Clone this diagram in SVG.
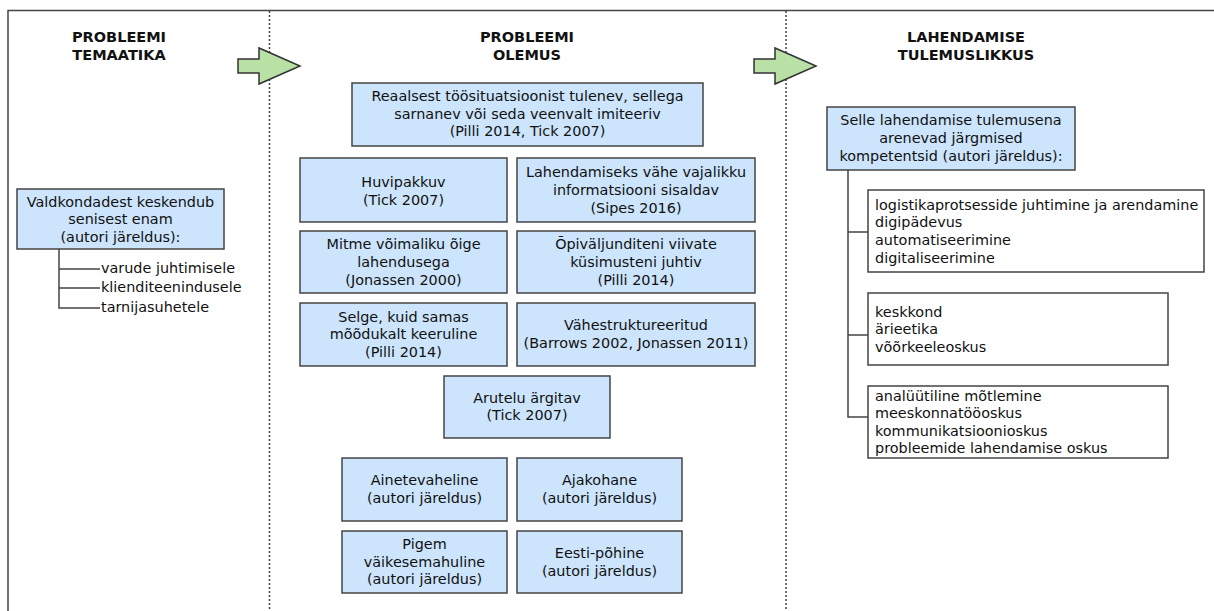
<svg xmlns="http://www.w3.org/2000/svg" width="1214" height="611" viewBox="0 0 1214 611">
<style>
text{font-family:"DejaVu Sans",Verdana,sans-serif;font-size:14.4px;fill:#111}
.h{font-weight:bold;font-size:14.5px;text-anchor:middle}
.c{text-anchor:middle}
.blue{fill:#cce4fc;stroke:#444;stroke-width:1.5}
.white{fill:#fff;stroke:#444;stroke-width:1.5}
.ln{stroke:#444;stroke-width:1.5;fill:none}
.dash{stroke:#444;stroke-width:1.5;stroke-dasharray:2 2;fill:none}
.arrow{fill:#b9e0a5;stroke:#333;stroke-width:1.5}
</style>
<rect width="1214" height="611" fill="#fff"/>
<g id="frame">
<path class="ln" d="M8 611 V10.5 H1214" stroke="#555"/>
<line class="dash" x1="269.5" y1="11" x2="269.5" y2="611"/>
<line class="dash" x1="786" y1="11" x2="786" y2="611"/>
</g>
<g id="arrows">
<polygon class="arrow" points="238,59 259,59 259,48 300,66 259,84 259,73 238,73"/>
<polygon class="arrow" points="754,59 775,59 775,48 816,66 775,84 775,73 754,73"/>
</g>
<g id="headers">
<text class="h" x="119" y="42">PROBLEEMI</text>
<text class="h" x="119" y="60">TEMAATIKA</text>
<text class="h" x="527" y="42">PROBLEEMI</text>
<text class="h" x="527" y="60">OLEMUS</text>
<text class="h" x="966" y="42">LAHENDAMISE</text>
<text class="h" x="966" y="60">TULEMUSLIKKUS</text>
</g>
<g id="connectors">
<path class="ln" d="M59 249 V308 H100 M59 269 H100 M59 288 H100"/>
<path class="ln" d="M848 170 V417 H868 M848 232 H868 M848 335 H868"/>
</g>
<g id="n-valdkond">
<rect class="blue" x="17" y="189" width="207" height="60"/>
<text class="c" x="120.5" y="207">Valdkondadest keskendub</text>
<text class="c" x="120.5" y="224">senisest enam</text>
<text class="c" x="120.5" y="242">(autori järeldus):</text>
</g>
<g id="n-valdkond-items">
<text x="101" y="273">varude juhtimisele</text>
<text x="101" y="292">klienditeenindusele</text>
<text x="101" y="312">tarnijasuhetele</text>
</g>
<g id="n-reaalsest">
<rect class="blue" x="352" y="83" width="351" height="63"/>
<text class="c" x="527.5" y="101">Reaalsest töösituatsioonist tulenev, sellega</text>
<text class="c" x="527.5" y="119">sarnanev või seda veenvalt imiteeriv</text>
<text class="c" x="527.5" y="136">(Pilli 2014, Tick 2007)</text>
</g>
<g id="n-huvi">
<rect class="blue" x="300" y="158" width="207" height="64"/>
<text class="c" x="403.5" y="187">Huvipakkuv</text>
<text class="c" x="403.5" y="205">(Tick 2007)</text>
</g>
<g id="n-lahend">
<rect class="blue" x="517" y="158" width="238" height="64"/>
<text class="c" x="636" y="177">Lahendamiseks vähe vajalikku</text>
<text class="c" x="636" y="195">informatsiooni sisaldav</text>
<text class="c" x="636" y="213">(Sipes 2016)</text>
</g>
<g id="n-mitme">
<rect class="blue" x="300" y="231" width="207" height="62"/>
<text class="c" x="403.5" y="249">Mitme võimaliku õige</text>
<text class="c" x="403.5" y="267">lahendusega</text>
<text class="c" x="403.5" y="285">(Jonassen 2000)</text>
</g>
<g id="n-opi">
<rect class="blue" x="517" y="231" width="238" height="62"/>
<text class="c" x="636" y="249">Õpiväljunditeni viivate</text>
<text class="c" x="636" y="267">küsimusteni juhtiv</text>
<text class="c" x="636" y="285">(Pilli 2014)</text>
</g>
<g id="n-selge">
<rect class="blue" x="300" y="303" width="207" height="63"/>
<text class="c" x="403.5" y="322">Selge, kuid samas</text>
<text class="c" x="403.5" y="339">mõõdukalt keeruline</text>
<text class="c" x="403.5" y="357">(Pilli 2014)</text>
</g>
<g id="n-vahe">
<rect class="blue" x="517" y="303" width="238" height="63"/>
<text class="c" x="636" y="330">Vähestruktureeritud</text>
<text class="c" x="636" y="348">(Barrows 2002, Jonassen 2011)</text>
</g>
<g id="n-arutelu">
<rect class="blue" x="444" y="376" width="166" height="62"/>
<text class="c" x="527" y="403">Arutelu ärgitav</text>
<text class="c" x="527" y="420">(Tick 2007)</text>
</g>
<g id="n-aine">
<rect class="blue" x="342" y="458" width="165" height="63"/>
<text class="c" x="424.5" y="485">Ainetevaheline</text>
<text class="c" x="424.5" y="503">(autori järeldus)</text>
</g>
<g id="n-ajak">
<rect class="blue" x="517" y="458" width="165" height="63"/>
<text class="c" x="599.5" y="485">Ajakohane</text>
<text class="c" x="599.5" y="503">(autori järeldus)</text>
</g>
<g id="n-pigem">
<rect class="blue" x="342" y="531" width="165" height="62"/>
<text class="c" x="424.5" y="549">Pigem</text>
<text class="c" x="424.5" y="567">väikesemahuline</text>
<text class="c" x="424.5" y="584">(autori järeldus)</text>
</g>
<g id="n-eesti">
<rect class="blue" x="517" y="531" width="165" height="62"/>
<text class="c" x="599.5" y="558">Eesti-põhine</text>
<text class="c" x="599.5" y="576">(autori järeldus)</text>
</g>
<g id="n-selle">
<rect class="blue" x="827" y="107" width="248" height="63"/>
<text class="c" x="951" y="125">Selle lahendamise tulemusena</text>
<text class="c" x="951" y="143">arenevad järgmised</text>
<text class="c" x="951" y="161">kompetentsid (autori järeldus):</text>
</g>
<g id="n-komp1">
<rect class="white" x="868" y="190" width="336" height="82"/>
<text x="875" y="210">logistikaprotsesside juhtimine ja arendamine</text>
<text x="875" y="227">digipädevus</text>
<text x="875" y="245">automatiseerimine</text>
<text x="875" y="263">digitaliseerimine</text>
</g>
<g id="n-komp2">
<rect class="white" x="868" y="293" width="300" height="72"/>
<text x="875" y="317">keskkond</text>
<text x="875" y="334">ärieetika</text>
<text x="875" y="352">võõrkeeleoskus</text>
</g>
<g id="n-komp3">
<rect class="white" x="868" y="386" width="300" height="72"/>
<text x="875" y="401">analüütiline mõtlemine</text>
<text x="875" y="418">meeskonnatööoskus</text>
<text x="875" y="436">kommunikatsioonioskus</text>
<text x="875" y="453">probleemide lahendamise oskus</text>
</g>
</svg>
